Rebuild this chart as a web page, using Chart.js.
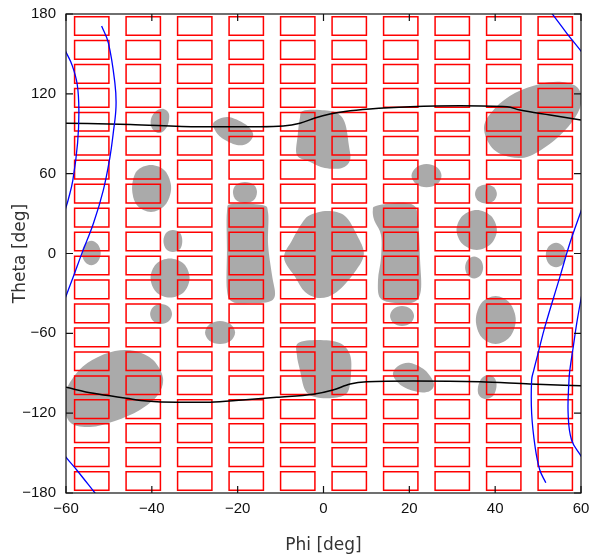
<!DOCTYPE html>
<html>
<head>
<meta charset="utf-8">
<script src="https://cdn.jsdelivr.net/npm/chart.js@4.4.1/dist/chart.umd.min.js"></script>
<style>
  html, body { margin: 0; padding: 0; background: #fff; }
</style>
</head>
<body>
<canvas id="sky" width="592" height="559"></canvas>
<script>
// detector cells (phi left edge, theta top edge, in deg)
const cellPhi = [-58, -46, -34, -22, -10, 2, 14, 26, 38, 50];
const cellTheta = [178, 160, 142, 124, 106, 88, 70, 52, 34, 16, -2, -20, -38, -56, -74, -92, -110, -128, -146, -164];
const cellW = 8;
const cellH = 14;

// gray regions, outline points [phi, theta]
const blobA = [[-37.2,108.6],[-36.0,104.8],[-36.2,97.3],[-37.2,92.1],[-38.6,90.6],[-40.0,94.3],[-40.2,101.1],[-39.0,107.1]];
const blobB = [[-25.5,98.8],[-22.3,102.6],[-18.3,97.3],[-16.4,89.8],[-17.6,83.0],[-20.2,81.5],[-23.7,86.8],[-25.3,92.8]];
const blobC = [[-40.2,66.5],[-36.9,62.0],[-35.5,49.2],[-36.9,36.4],[-40.2,31.2],[-43.5,36.4],[-44.6,49.2],[-43.5,62.0]];
const blobD = [[-18.3,53.7],[-16.2,51.5],[-15.5,46.2],[-16.2,40.2],[-18.3,38.0],[-20.4,40.2],[-21.1,46.2],[-20.4,51.5]];
const blobE = [[-21.3,37.2],[-14.3,36.4],[-12.9,30.4],[-12.9,6.4],[-12.0,-16.2],[-11.3,-31.2],[-12.9,-36.5],[-17.1,-37.2],[-21.1,-36.5],[-22.5,-27.4],[-22.5,2.6],[-22.5,31.2]];
const blobF = [[-35.1,17.7],[-33.4,15.4],[-32.9,9.4],[-33.4,3.4],[-35.1,1.1],[-36.7,3.4],[-37.3,9.4],[-36.7,15.4]];
const blobG = [[-35.8,-3.8],[-32.5,-7.9],[-31.2,-18.4],[-32.5,-28.9],[-35.8,-33.1],[-39.0,-28.9],[-40.3,-18.4],[-39.0,-7.9]];
const blobH = [[-37.9,-38.0],[-36.0,-40.2],[-35.3,-45.5],[-36.0,-50.7],[-37.9,-53.0],[-39.7,-50.7],[-40.4,-45.5],[-39.7,-40.2]];
const blobI = [[-24.1,-50.7],[-21.6,-53.3],[-20.6,-59.4],[-21.6,-65.5],[-24.1,-68.0],[-26.6,-65.5],[-27.6,-59.4],[-26.6,-53.3]];
const blobJ = [[-54.1,9.6],[-52.6,6.9],[-51.9,0.4],[-52.6,-6.2],[-54.1,-8.9],[-55.6,-6.2],[-56.3,0.4],[-55.6,6.9]];
const blobL = [[-4.8,107.1],[-0.8,107.8],[3.1,105.6],[5.0,98.1],[5.9,81.5],[6.2,70.3],[4.3,64.3],[0.3,64.3],[-3.1,68.8],[-6.2,74.0],[-6.0,89.1],[-5.5,101.8]];
const blobM = [[-3.1,28.9],[1.0,31.9],[5.0,28.2],[7.8,13.9],[9.4,-0.4],[7.3,-13.9],[3.1,-28.9],[-0.8,-33.5],[-4.3,-28.9],[-6.6,-17.7],[-9.2,-3.4],[-7.3,10.1],[-5.0,22.9]];
const blobN = [[12.2,35.7],[16.7,38.0],[20.9,36.4],[22.0,26.7],[22.5,-4.9],[22.7,-27.4],[21.1,-36.5],[16.7,-37.2],[13.2,-33.5],[12.7,-19.9],[13.4,-3.4],[13.4,13.9],[11.8,25.2],[11.5,32.7]];
const blobO = [[18.3,-39.5],[20.3,-41.7],[21.1,-47.0],[20.3,-52.2],[18.3,-54.5],[16.3,-52.2],[15.5,-47.0],[16.3,-41.7]];
const blobP = [[24.0,67.3],[26.5,64.7],[27.5,58.5],[26.5,52.2],[24.0,49.7],[21.6,52.2],[20.5,58.5],[21.6,64.7]];
const blobQ = [[37.4,95.1],[40.0,109.3],[44.6,120.6],[50.4,127.4],[55.6,128.9],[59.3,124.4],[60.0,112.4],[57.9,98.8],[53.9,85.3],[48.1,73.3],[43.5,72.5],[39.3,79.3]];
const blobR = [[37.9,51.9],[39.7,49.7],[40.4,44.7],[39.7,39.7],[37.9,37.6],[36.0,39.7],[35.3,44.7],[36.0,49.7]];
const blobS = [[35.7,32.7],[39.0,28.3],[40.4,17.7],[39.0,7.1],[35.7,2.6],[32.4,7.1],[31.0,17.7],[32.4,28.3]];
const blobT = [[35.1,-2.3],[36.6,-4.7],[37.2,-10.5],[36.6,-16.4],[35.1,-18.8],[33.6,-16.4],[33.0,-10.5],[33.6,-4.7]];
const blobU = [[40.1,-31.9],[43.4,-37.2],[44.8,-50.0],[43.4,-62.8],[40.1,-68.0],[36.8,-62.8],[35.5,-50.0],[36.8,-37.2]];
const blobV = [[54.2,8.1],[55.8,5.4],[56.5,-1.1],[55.8,-7.7],[54.2,-10.4],[52.5,-7.7],[51.8,-1.1],[52.5,5.4]];
const blobW = [[-60.5,-108.6],[-57.9,-91.3],[-53.9,-80.1],[-48.6,-73.3],[-43.9,-73.3],[-39.7,-80.1],[-37.4,-93.6],[-38.6,-106.4],[-42.8,-117.6],[-48.6,-125.9],[-54.4,-130.4],[-59.1,-126.7]];
const blobX = [[-5.9,-67.3],[-1.3,-65.0],[3.8,-67.3],[6.2,-76.3],[6.4,-91.3],[5.5,-104.9],[2.2,-108.6],[-2.0,-107.9],[-4.3,-102.6],[-5.5,-87.6],[-6.2,-76.3]];
const blobY = [[16.2,-91.3],[17.4,-84.6],[20.2,-82.3],[23.6,-87.6],[25.7,-97.3],[24.8,-103.3],[22.0,-104.1],[18.3,-99.6]];
const blobZ = [[38.6,-91.3],[40.0,-94.3],[40.3,-100.3],[39.5,-107.1],[37.6,-109.4],[36.2,-106.4],[36.0,-100.3],[36.9,-93.6]];
const blobs = [blobA, blobB, blobC, blobD, blobE, blobF, blobG, blobH, blobI, blobJ, blobL, blobM, blobN,
  blobO, blobP, blobQ, blobR, blobS, blobT, blobU, blobV, blobW, blobX, blobY, blobZ];

// black tracks
const upperPhi = [-60, -45, -29, -15, -9.4, -5.5, -2, 1.5, 5, 10.8, 20.2, 31.8, 42.8, 45.8, 52.8, 60];
const upperTheta = [97.9, 97.0, 95.3, 95.3, 95.8, 97.9, 101.8, 104.8, 106.7, 108.6, 110.3, 111.1, 110.3, 107.8, 104.1, 100.3];
const lowerPhi = [-60, -53.6, -45.9, -41.2, -34.2, -26.4, -18.8, -10.9, -2.4, 2.2, 6.2, 10.1, 20.9, 36.5, 48.1, 60];
const lowerTheta = [-100.6, -105.1, -108.8, -110.9, -111.8, -111.8, -110.1, -108.1, -105.8, -102.6, -98.1, -96.4, -95.8, -96.4, -98.1, -99.4];

// blue contours [phi, theta]
const blueOuterLeft = [[-60.5,155],[-60,151.4],[-58.6,141.7],[-57.4,127.4],[-57.0,107.8],[-57.3,83.0],[-58.4,55.2],[-59.5,40.2],[-60.2,32.7]];
const blueInnerLeft = [[-51.7,171.0],[-50.1,158.0],[-48.6,127.9],[-48.35,110.3],[-49.0,90.3],[-49.75,72.7],[-51.3,47.7],[-53.6,22.7],[-56.3,0.1],[-58.3,-17.4],[-60.2,-33.7]];
const blueLowLeft = [[-60.5,-150],[-60.1,-152.7],[-57.5,-162.7],[-53.2,-180.2]];
const blueTopRight = [[53.2,180.5],[56.7,165.5],[60.1,151.7],[60.5,149.5]];
const blueRight = [[60.3,34.5],[60.1,32.7],[57.4,7.7],[55.1,-17.4],[51.6,-55.0],[50.0,-75.0],[49.0,-87.6],[48.5,-95.1],[48.5,-120.1],[49.3,-145.2],[50.4,-162.7],[51.8,-172.3]];
const blueRightInner = [[60.3,-30],[60.1,-32.5],[59.0,-52.5],[58.2,-70.1],[57.4,-87.6],[57.2,-95.1],[57.0,-120.1],[57.8,-140.2],[60.1,-152.7],[60.5,-155]];
const blueCurves = [blueOuterLeft, blueInnerLeft, blueLowLeft, blueTopRight, blueRight, blueRightInner];

const toXY = (arr) => arr.map((p) => ({ x: p[0], y: p[1] }));
const zipXY = (xs, ys) => xs.map((v, i) => ({ x: v, y: ys[i] }));

let datasets = [];
for (const c of blueCurves) {
  datasets.push({ data: toXY(c), showLine: true, borderColor: "#0000ff", borderWidth: 1.3, pointRadius: 0, tension: 0.4, order: 0 });
}
datasets.push({ data: zipXY(upperPhi, upperTheta), showLine: true, borderColor: "#000", borderWidth: 1.5, pointRadius: 0, cubicInterpolationMode: "monotone", order: 1 });
datasets.push({ data: zipXY(lowerPhi, lowerTheta), showLine: true, borderColor: "#000", borderWidth: 1.5, pointRadius: 0, cubicInterpolationMode: "monotone", order: 1 });
for (const l of cellPhi) {
  for (const t of cellTheta) {
    datasets.push({
      data: [{ x: l, y: t }, { x: l + cellW, y: t }, { x: l + cellW, y: t - cellH }, { x: l, y: t - cellH }, { x: l, y: t }],
      showLine: true, borderColor: "#ff0000", borderWidth: 1.5, borderCapStyle: "square", pointRadius: 0, tension: 0, order: 2,
    });
  }
}
for (const b of blobs) {
  datasets.push({ data: toXY(b), showLine: false, pointRadius: 0, blob: true, order: 3 });
}

// closed smooth gray shapes through the blob points
const blobFill = {
  id: "blobFill",
  beforeDatasetsDraw(chart) {
    const { ctx, chartArea } = chart;
    ctx.save();
    ctx.beginPath();
    ctx.rect(chartArea.left, chartArea.top, chartArea.width, chartArea.height);
    ctx.clip();
    ctx.fillStyle = "#aaaaaa";
    chart.data.datasets.forEach((ds, i) => {
      if (!ds.blob) return;
      const pts = chart.getDatasetMeta(i).data;
      const n = pts.length;
      ctx.beginPath();
      ctx.moveTo(pts[0].x, pts[0].y);
      for (let k = 0; k < n; k++) {
        const p0 = pts[(k - 1 + n) % n], p1 = pts[k], p2 = pts[(k + 1) % n], p3 = pts[(k + 2) % n];
        ctx.bezierCurveTo(
          p1.x + (p2.x - p0.x) / 6, p1.y + (p2.y - p0.y) / 6,
          p2.x - (p3.x - p1.x) / 6, p2.y - (p3.y - p1.y) / 6,
          p2.x, p2.y
        );
      }
      ctx.closePath();
      ctx.fill();
    });
    ctx.restore();
  },
};

// box frame with inward ticks on all sides
const frameTicks = {
  id: "frameTicks",
  afterDatasetsDraw(chart) {
    const { ctx, chartArea: { left, top, right, bottom }, scales: { x, y } } = chart;
    ctx.save();
    ctx.strokeStyle = "#111";
    ctx.lineWidth = 1.2;
    ctx.strokeRect(left, top, right - left, bottom - top);
    ctx.beginPath();
    x.ticks.forEach((t) => {
      const px = x.getPixelForValue(t.value);
      ctx.moveTo(px, bottom); ctx.lineTo(px, bottom - 7);
      ctx.moveTo(px, top); ctx.lineTo(px, top + 7);
    });
    y.ticks.forEach((t) => {
      const py = y.getPixelForValue(t.value);
      ctx.moveTo(left, py); ctx.lineTo(left + 7, py);
      ctx.moveTo(right, py); ctx.lineTo(right - 7, py);
    });
    ctx.stroke();
    ctx.restore();
  },
};

const minus = (v) => String(v).replace("-", "\u2212");

new Chart(document.getElementById("sky"), {
  type: "scatter",
  data: { datasets: datasets },
  options: {
    responsive: false,
    animation: false,
    events: [],
    layout: { padding: { top: 14, right: 11, left: 0, bottom: 0 } },
    plugins: { legend: { display: false }, tooltip: { enabled: false } },
    scales: {
      x: {
        type: "linear", min: -60, max: 60,
        afterFit: (s) => { s.height = 66; s.paddingLeft = 0; s.paddingRight = 0; },
        grid: { display: false, drawTicks: false }, border: { display: false },
        ticks: { stepSize: 20, padding: 7, color: "#111", font: { family: "Liberation Sans", size: 15 }, callback: minus, maxRotation: 0 },
        title: { display: true, text: "Phi [deg]", color: "#333", font: { family: "DejaVu Sans", size: 17 }, padding: { top: 0, bottom: 3 } },
      },
      y: {
        type: "linear", min: -180, max: 180,
        afterFit: (s) => { s.width = 66; s.paddingTop = 0; s.paddingBottom = 0; },
        grid: { display: false, drawTicks: false }, border: { display: false },
        ticks: { stepSize: 60, padding: 10, color: "#111", font: { family: "Liberation Sans", size: 15 }, callback: minus },
        title: { display: true, text: "Theta [deg]", color: "#333", font: { family: "DejaVu Sans", size: 17 }, padding: { top: 10, bottom: 0 } },
      },
    },
  },
  plugins: [blobFill, frameTicks],
});
</script>
</body>
</html>
